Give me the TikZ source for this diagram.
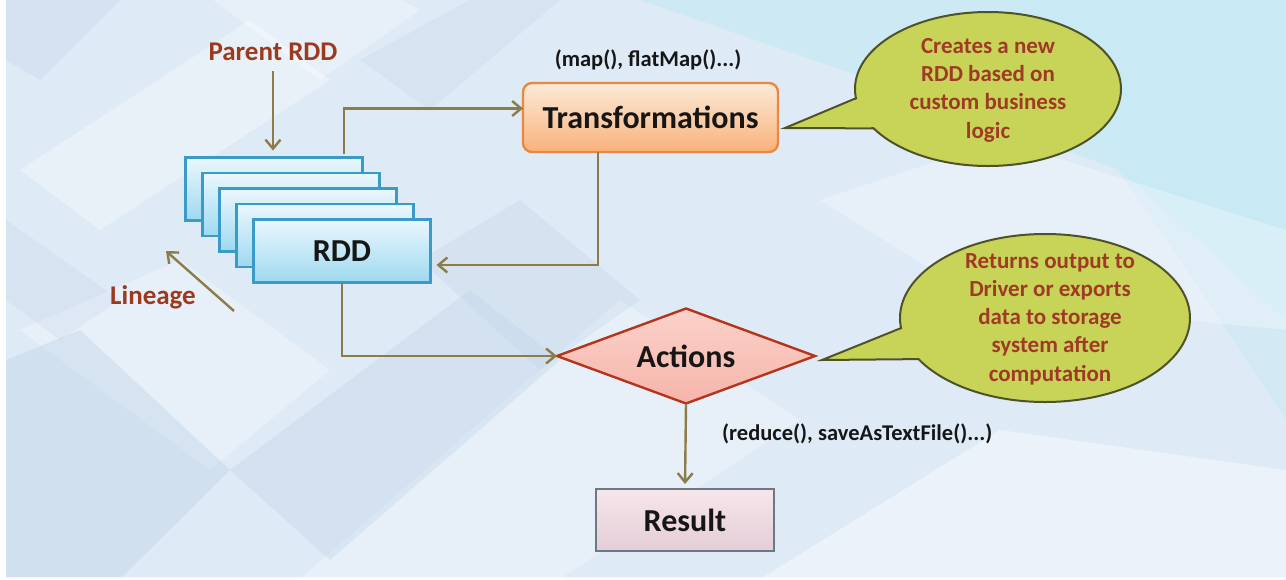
\documentclass[tikz,border=0pt]{standalone}
\usepackage{fontspec}
\setmainfont{Carlito}
\usetikzlibrary{arrows.meta,shapes.geometric,calc}
\definecolor{conncol}{RGB}{140,124,72}
\definecolor{labred}{RGB}{155,58,30}
\definecolor{bubfill}{RGB}{200,212,88}
\definecolor{bubline}{RGB}{78,82,40}
\definecolor{bubtext}{RGB}{160,58,38}
\definecolor{rddtop}{RGB}{234,247,253}
\definecolor{rddbot}{RGB}{158,217,240}
\definecolor{rddline}{RGB}{58,155,200}
\definecolor{trtop}{RGB}{253,234,216}
\definecolor{trbot}{RGB}{248,178,122}
\definecolor{trline}{RGB}{234,136,66}
\definecolor{acttop}{RGB}{251,210,202}
\definecolor{actbot}{RGB}{246,180,170}
\definecolor{actline}{RGB}{180,52,28}
\definecolor{restop}{RGB}{247,230,235}
\definecolor{resbot}{RGB}{228,205,215}
\definecolor{resline}{RGB}{110,120,130}
\definecolor{bgbase}{RGB}{222,234,245}
\definecolor{bgcyan}{RGB}{198,233,244}
\definecolor{bgblue}{RGB}{198,216,235}
\definecolor{txtdark}{RGB}{22,22,22}
\begin{document}
\begin{tikzpicture}[x=1pt,y=-1pt,line join=miter,
  conn/.style={draw=conncol,line width=2.4pt,-{Straight Barb[length=9pt,width=15pt]}},
  lbl/.style={font=\fontsize{27}{32}\selectfont\bfseries,text=labred,inner sep=2pt},
  codelbl/.style={font=\fontsize{22.5}{27}\selectfont\bfseries,text=txtdark,inner sep=2pt},
  bigtxt/.style={font=\fontsize{32}{38}\selectfont\bfseries,text=txtdark},
  rddbox/.style={draw=rddline,line width=2.2pt,top color=rddtop,bottom color=rddbot,
    minimum width=177pt,minimum height=63pt,inner sep=0pt,outer sep=0pt},
  trbox/.style={draw=trline,line width=2.4pt,top color=trtop,bottom color=trbot,
    rounded corners=9pt,minimum width=255pt,minimum height=69pt,inner sep=0pt,outer sep=0pt},
  actbox/.style={diamond,draw=actline,line width=2.4pt,top color=acttop,bottom color=actbot,
    minimum width=258pt,minimum height=95pt,aspect=2.7,inner sep=0pt,outer sep=0pt},
  resbox/.style={draw=resline,line width=2.4pt,top color=restop,bottom color=resbot,
    minimum width=178pt,minimum height=62pt,inner sep=0pt,outer sep=0pt},
  bubble/.style={ellipse,draw=bubline,line width=2pt,fill=bubfill,inner sep=0pt,outer sep=0pt},
  bubtxt/.style={font=\fontsize{23}{28.3}\selectfont\bfseries,text=bubtext,align=center,inner sep=0pt}]
\useasboundingbox (0,0) rectangle (1286,579);
% background
\fill[bgbase] (0,0) rectangle (1286,579);
\begin{scope}
\clip (6,0) rectangle (1286,577);
\fill[bgcyan,opacity=0.75] (640,0) -- (1286,0) -- (1286,320) -- (1120,170) -- (900,90) -- cycle;
\fill[bgcyan,opacity=0.45] (1000,0) -- (1286,0) -- (1286,420) -- (1180,260) -- cycle;
\fill[white,opacity=0.35] (20,170) -- (250,20) -- (330,80) -- (100,230) -- cycle;
\fill[white,opacity=0.3] (200,-10) -- (320,80) -- (420,10) -- (330,-40) -- cycle;
\fill[white,opacity=0.3] (20,330) -- (210,470) -- (330,370) -- (180,260) -- cycle;
\fill[white,opacity=0.3] (300,579) -- (620,300) -- (800,420) -- (560,579) -- cycle;
\fill[white,opacity=0.3] (820,200) -- (1000,140) -- (1286,230) -- (1286,330) -- (980,300) -- cycle;
\fill[white,opacity=0.4] (760,579) -- (1000,430) -- (1286,470) -- (1286,579) -- cycle;
\fill[bgblue,opacity=0.5] (6,360) -- (80,330) -- (230,470) -- (120,579) -- (6,579) -- cycle;
\fill[bgblue,opacity=0.45] (230,470) -- (470,290) -- (560,360) -- (330,560) -- cycle;
\fill[bgblue,opacity=0.4] (6,0) -- (120,0) -- (40,80) -- (6,60) -- cycle;
\fill[bgblue,opacity=0.35] (420,260) -- (520,200) -- (640,300) -- (540,370) -- cycle;
\fill[bgblue,opacity=0.3] (360,60) -- (470,0) -- (560,0) -- (430,110) -- cycle;
\fill[bgblue,opacity=0.3] (6,220) -- (120,300) -- (60,340) -- (6,300) -- cycle;
\end{scope}
\fill[white] (0,0) rectangle (6,579);
\fill[white,opacity=0.8] (6,577) rectangle (1286,579);
% labels
\node[lbl] (parent) at (273,52) {Parent RDD};
\node[lbl] (lin) at (153,297) {Lineage};
\coordinate (lintail) at (234,311);
\coordinate (linhead) at (166,251);
% RDD stack
\node[rddbox] (r1) at (274,189) {};
\node[rddbox] (r2) at (291,204.5) {};
\node[rddbox] (r3) at (308,220) {};
\node[rddbox] (r4) at (325,235.5) {};
\node[rddbox,bigtxt] (r5) at (342,251) {RDD};
% main nodes
\node[trbox,bigtxt] (trans) at (650.5,117.5) {Transformations};
\node[codelbl] (mapl) at (648,60) {(map(), flatMap()...)};
\node[actbox,bigtxt] (act) at (686,356) {Actions};
\node[resbox,bigtxt] (res) at (685,520) {Result};
\node[codelbl,anchor=west] (redl) at (720,434) {(reduce(), saveAsTextFile()...)};
% connectors
\draw[conn,shorten <=8pt,shorten >=7pt] (parent.south) -- (parent.south |- r1.north);
\draw[conn] (lintail) -- (linhead);
\draw[conn,shorten <=4pt] ([xshift=-18.5pt]r1.north east) |- ([yshift=9pt]trans.west);
\draw[conn,shorten >=6pt] ([xshift=-52.5pt]trans.south) |- ([yshift=-14pt]r5.east);
\draw[conn] (r5.south) |- (act.west);
\draw[conn,shorten >=5pt] (act.south) -- (res.north);
% bubble 1
\node[bubble,minimum width=266pt,minimum height=154pt] (b1) at (988,89) {};
\coordinate (t1) at (785,128);
\fill[bubfill] ($(b1.184)!4pt!(b1.center)$) -- (t1) -- ($(b1.199)!4pt!(b1.center)$) -- cycle;
\draw[bubline,line width=2pt] (b1.184) -- (t1) -- (b1.199);
\node[bubtxt] (b1t) at (988,90) {Creates a new\\RDD based on\\custom business\\logic};
% bubble 2
\node[bubble,minimum width=290pt,minimum height=168pt] (b2) at (1045,318) {};
\coordinate (t2) at (822,360);
\fill[bubfill] ($(b2.184)!4pt!(b2.center)$) -- (t2) -- ($(b2.198)!4pt!(b2.center)$) -- cycle;
\draw[bubline,line width=2pt] (b2.184) -- (t2) -- (b2.198);
\node[bubtxt] (b2t) at (1050,319) {Returns output to\\Driver or exports\\data to storage\\system after\\computation};
\end{tikzpicture}
\end{document}
